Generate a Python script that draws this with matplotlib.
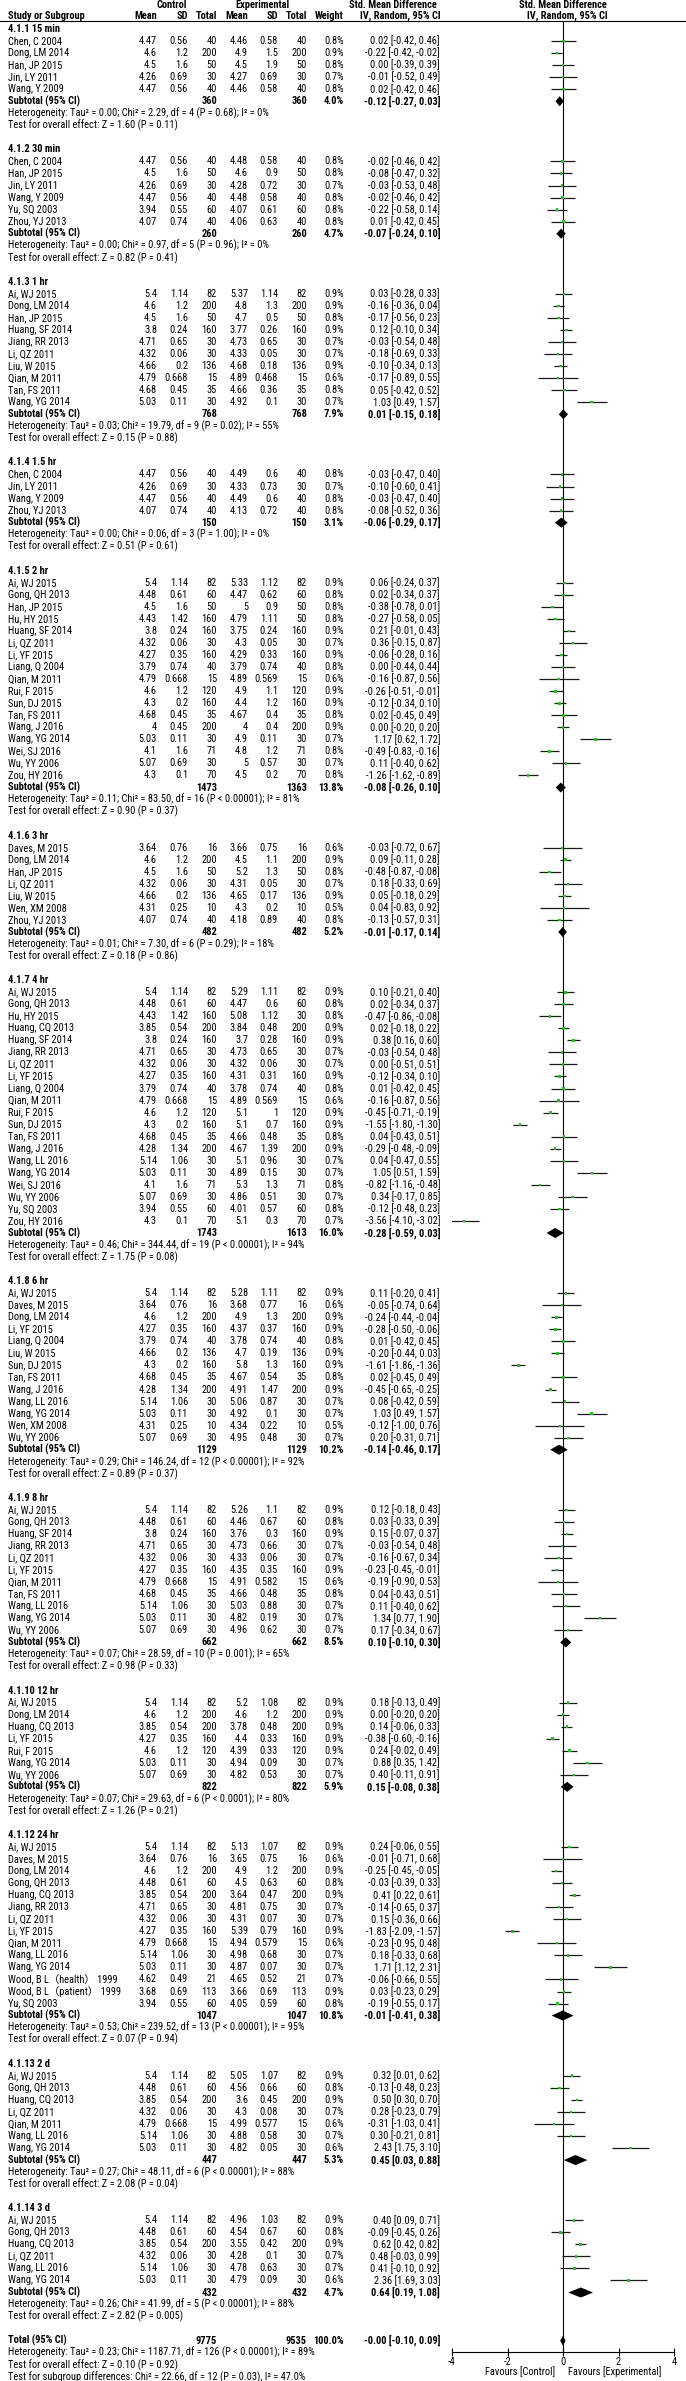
import matplotlib
matplotlib.use("Agg")
import matplotlib.pyplot as plt
from matplotlib import font_manager as fm

# ---- subgroup level data ----
sub_labels = ["4.1.1 15 min", "4.1.2 30 min", "4.1.3 1 hr", "4.1.4 1.5 hr", "4.1.5 2 hr",
              "4.1.6 3 hr", "4.1.7 4 hr", "4.1.8 6 hr", "4.1.9 8 hr", "4.1.10 12 hr",
              "4.1.12 24 hr", "4.1.13 2 d", "4.1.14 3 d"]
sub_size = [5, 6, 10, 4, 17, 7, 20, 13, 11, 7, 14, 7, 6]
sub_ctrl_n = [360, 260, 768, 150, 1473, 482, 1743, 1129, 662, 822, 1047, 447, 432]
sub_exp_n = [360, 260, 768, 150, 1363, 482, 1613, 1129, 662, 822, 1047, 447, 432]
sub_weight = [4.0, 4.7, 7.9, 3.1, 13.8, 5.2, 16.0, 10.2, 8.5, 5.9, 10.8, 5.3, 4.7]
sub_smd = [-0.12, -0.07, 0.01, -0.06, -0.08, -0.01, -0.28, -0.14, 0.10, 0.15, -0.01, 0.45, 0.64]
sub_lo = [-0.27, -0.24, -0.15, -0.29, -0.26, -0.17, -0.59, -0.46, -0.10, -0.08, -0.41, 0.03, 0.19]
sub_hi = [0.03, 0.10, 0.18, 0.17, 0.10, 0.14, 0.03, 0.17, 0.30, 0.38, 0.38, 0.88, 1.08]
sub_tau2 = ["0.00", "0.00", "0.03", "0.00", "0.11", "0.01", "0.46", "0.29", "0.07", "0.07", "0.53", "0.27", "0.26"]
sub_chi2 = ["2.29", "0.97", "19.79", "0.06", "83.50", "7.30", "344.44", "146.24", "28.59", "29.63",
            "239.52", "48.11", "41.99"]
sub_p_het = ["= 0.68", "= 0.96", "= 0.02", "= 1.00", "< 0.00001", "= 0.29", "< 0.00001", "< 0.00001",
             "= 0.001", "< 0.0001", "< 0.00001", "< 0.00001", "< 0.00001"]
sub_i2 = [0, 0, 55, 0, 81, 18, 94, 92, 65, 80, 95, 88, 88]
sub_z = ["1.60", "0.82", "0.15", "0.51", "0.90", "0.18", "1.75", "0.89", "0.98", "1.26", "0.07", "2.08", "2.82"]
sub_p_z = ["0.11", "0.41", "0.88", "0.61", "0.37", "0.86", "0.08", "0.37", "0.33", "0.21", "0.94", "0.04", "0.005"]

# ---- study level data (in subgroup order) ----
study = [
    "Chen, C 2004", "Dong, LM 2014", "Han, JP 2015", "Jin, LY 2011", "Wang, Y 2009",
    "Chen, C 2004", "Han, JP 2015", "Jin, LY 2011", "Wang, Y 2009", "Yu, SQ 2003", "Zhou, YJ 2013",
    "Ai, WJ 2015", "Dong, LM 2014", "Han, JP 2015", "Huang, SF 2014", "Jiang, RR 2013", "Li, QZ 2011",
    "Liu, W 2015", "Qian, M 2011", "Tan, FS 2011", "Wang, YG 2014",
    "Chen, C 2004", "Jin, LY 2011", "Wang, Y 2009", "Zhou, YJ 2013",
    "Ai, WJ 2015", "Gong, QH 2013", "Han, JP 2015", "Hu, HY 2015", "Huang, SF 2014", "Li, QZ 2011",
    "Li, YF 2015", "Liang, Q 2004", "Qian, M 2011", "Rui, F 2015", "Sun, DJ 2015", "Tan, FS 2011",
    "Wang, J 2016", "Wang, YG 2014", "Wei, SJ 2016", "Wu, YY 2006", "Zou, HY 2016",
    "Daves, M 2015", "Dong, LM 2014", "Han, JP 2015", "Li, QZ 2011", "Liu, W 2015", "Wen, XM 2008",
    "Zhou, YJ 2013",
    "Ai, WJ 2015", "Gong, QH 2013", "Hu, HY 2015", "Huang, CQ 2013", "Huang, SF 2014", "Jiang, RR 2013",
    "Li, QZ 2011", "Li, YF 2015", "Liang, Q 2004", "Qian, M 2011", "Rui, F 2015", "Sun, DJ 2015",
    "Tan, FS 2011", "Wang, J 2016", "Wang, LL 2016", "Wang, YG 2014", "Wei, SJ 2016", "Wu, YY 2006",
    "Yu, SQ 2003", "Zou, HY 2016",
    "Ai, WJ 2015", "Daves, M 2015", "Dong, LM 2014", "Li, YF 2015", "Liang, Q 2004", "Liu, W 2015",
    "Sun, DJ 2015", "Tan, FS 2011", "Wang, J 2016", "Wang, LL 2016", "Wang, YG 2014", "Wen, XM 2008",
    "Wu, YY 2006",
    "Ai, WJ 2015", "Gong, QH 2013", "Huang, SF 2014", "Jiang, RR 2013", "Li, QZ 2011", "Li, YF 2015",
    "Qian, M 2011", "Tan, FS 2011", "Wang, LL 2016", "Wang, YG 2014", "Wu, YY 2006",
    "Ai, WJ 2015", "Dong, LM 2014", "Huang, CQ 2013", "Li, YF 2015", "Rui, F 2015", "Wang, YG 2014",
    "Wu, YY 2006",
    "Ai, WJ 2015", "Daves, M 2015", "Dong, LM 2014", "Gong, QH 2013", "Huang, CQ 2013", "Jiang, RR 2013",
    "Li, QZ 2011", "Li, YF 2015", "Qian, M 2011", "Wang, LL 2016", "Wang, YG 2014",
    "Wood, B L（health） 1999", "Wood, B L（patient） 1999", "Yu, SQ 2003",
    "Ai, WJ 2015", "Gong, QH 2013", "Huang, CQ 2013", "Li, QZ 2011", "Qian, M 2011", "Wang, LL 2016",
    "Wang, YG 2014",
    "Ai, WJ 2015", "Gong, QH 2013", "Huang, CQ 2013", "Li, QZ 2011", "Wang, LL 2016", "Wang, YG 2014",
]

ctrl_mean = [
    4.47, 4.6, 4.5, 4.26, 4.47,
    4.47, 4.5, 4.26, 4.47, 3.94, 4.07,
    5.4, 4.6, 4.5, 3.8, 4.71, 4.32, 4.66, 4.79, 4.68, 5.03,
    4.47, 4.26, 4.47, 4.07,
    5.4, 4.48, 4.5, 4.43, 3.8, 4.32, 4.27, 3.79, 4.79, 4.6, 4.3, 4.68, 4, 5.03, 4.1, 5.07, 4.3,
    3.64, 4.6, 4.5, 4.32, 4.66, 4.31, 4.07,
    5.4, 4.48, 4.43, 3.85, 3.8, 4.71, 4.32, 4.27, 3.79, 4.79, 4.6, 4.3, 4.68, 4.28, 5.14, 5.03, 4.1,
    5.07, 3.94, 4.3,
    5.4, 3.64, 4.6, 4.27, 3.79, 4.66, 4.3, 4.68, 4.28, 5.14, 5.03, 4.31, 5.07,
    5.4, 4.48, 3.8, 4.71, 4.32, 4.27, 4.79, 4.68, 5.14, 5.03, 5.07,
    5.4, 4.6, 3.85, 4.27, 4.6, 5.03, 5.07,
    5.4, 3.64, 4.6, 4.48, 3.85, 4.71, 4.32, 4.27, 4.79, 5.14, 5.03, 4.62, 3.68, 3.94,
    5.4, 4.48, 3.85, 4.32, 4.79, 5.14, 5.03,
    5.4, 4.48, 3.85, 4.32, 5.14, 5.03,
]
ctrl_sd = [
    0.56, 1.2, 1.6, 0.69, 0.56,
    0.56, 1.6, 0.69, 0.56, 0.55, 0.74,
    1.14, 1.2, 1.6, 0.24, 0.65, 0.06, 0.2, 0.668, 0.45, 0.11,
    0.56, 0.69, 0.56, 0.74,
    1.14, 0.61, 1.6, 1.42, 0.24, 0.06, 0.35, 0.74, 0.668, 1.2, 0.2, 0.45, 0.45, 0.11, 1.6, 0.69, 0.1,
    0.76, 1.2, 1.6, 0.06, 0.2, 0.25, 0.74,
    1.14, 0.61, 1.42, 0.54, 0.24, 0.65, 0.06, 0.35, 0.74, 0.668, 1.2, 0.2, 0.45, 1.34, 1.06, 0.11, 1.6,
    0.69, 0.55, 0.1,
    1.14, 0.76, 1.2, 0.35, 0.74, 0.2, 0.2, 0.45, 1.34, 1.06, 0.11, 0.25, 0.69,
    1.14, 0.61, 0.24, 0.65, 0.06, 0.35, 0.668, 0.45, 1.06, 0.11, 0.69,
    1.14, 1.2, 0.54, 0.35, 1.2, 0.11, 0.69,
    1.14, 0.76, 1.2, 0.61, 0.54, 0.65, 0.06, 0.35, 0.668, 1.06, 0.11, 0.49, 0.69, 0.55,
    1.14, 0.61, 0.54, 0.06, 0.668, 1.06, 0.11,
    1.14, 0.61, 0.54, 0.06, 1.06, 0.11,
]
ctrl_n = [
    40, 200, 50, 30, 40,
    40, 50, 30, 40, 60, 40,
    82, 200, 50, 160, 30, 30, 136, 15, 35, 30,
    40, 30, 40, 40,
    82, 60, 50, 160, 160, 30, 160, 40, 15, 120, 160, 35, 200, 30, 71, 30, 70,
    16, 200, 50, 30, 136, 10, 40,
    82, 60, 160, 200, 160, 30, 30, 160, 40, 15, 120, 160, 35, 200, 30, 30, 71, 30, 60, 70,
    82, 16, 200, 160, 40, 136, 160, 35, 200, 30, 30, 10, 30,
    82, 60, 160, 30, 30, 160, 15, 35, 30, 30, 30,
    82, 200, 200, 160, 120, 30, 30,
    82, 16, 200, 60, 200, 30, 30, 160, 15, 30, 30, 21, 113, 60,
    82, 60, 200, 30, 15, 30, 30,
    82, 60, 200, 30, 30, 30,
]
exp_mean = [
    4.46, 4.9, 4.5, 4.27, 4.46,
    4.48, 4.6, 4.28, 4.48, 4.07, 4.06,
    5.37, 4.8, 4.7, 3.77, 4.73, 4.33, 4.68, 4.89, 4.66, 4.92,
    4.49, 4.33, 4.49, 4.13,
    5.33, 4.47, 5, 4.79, 3.75, 4.3, 4.29, 3.79, 4.89, 4.9, 4.4, 4.67, 4, 4.9, 4.8, 5, 4.5,
    3.66, 4.5, 5.2, 4.31, 4.65, 4.3, 4.18,
    5.29, 4.47, 5.08, 3.84, 3.7, 4.73, 4.32, 4.31, 3.78, 4.89, 5.1, 5.1, 4.66, 4.67, 5.1, 4.89, 5.3,
    4.86, 4.01, 5.1,
    5.28, 3.68, 4.9, 4.37, 3.78, 4.7, 5.8, 4.67, 4.91, 5.06, 4.92, 4.34, 4.95,
    5.26, 4.46, 3.76, 4.73, 4.33, 4.35, 4.91, 4.66, 5.03, 4.82, 4.96,
    5.2, 4.6, 3.78, 4.4, 4.39, 4.94, 4.82,
    5.13, 3.65, 4.9, 4.5, 3.64, 4.81, 4.31, 5.39, 4.94, 4.98, 4.87, 4.65, 3.66, 4.05,
    5.05, 4.56, 3.6, 4.3, 4.99, 4.88, 4.82,
    4.96, 4.54, 3.55, 4.28, 4.78, 4.79,
]
exp_sd = [
    0.58, 1.5, 1.9, 0.69, 0.58,
    0.58, 0.9, 0.72, 0.58, 0.61, 0.63,
    1.14, 1.3, 0.5, 0.26, 0.65, 0.05, 0.18, 0.468, 0.36, 0.1,
    0.6, 0.73, 0.6, 0.72,
    1.12, 0.62, 0.9, 1.11, 0.24, 0.05, 0.33, 0.74, 0.569, 1.1, 1.2, 0.4, 0.4, 0.11, 1.2, 0.57, 0.2,
    0.75, 1.1, 1.3, 0.05, 0.17, 0.2, 0.89,
    1.11, 0.6, 1.12, 0.48, 0.28, 0.65, 0.06, 0.31, 0.74, 0.569, 1, 0.7, 0.48, 1.39, 0.96, 0.15, 1.3,
    0.51, 0.57, 0.3,
    1.11, 0.77, 1.3, 0.37, 0.74, 0.19, 1.3, 0.54, 1.47, 0.87, 0.1, 0.22, 0.48,
    1.1, 0.67, 0.3, 0.66, 0.06, 0.35, 0.582, 0.48, 0.88, 0.19, 0.62,
    1.08, 1.2, 0.48, 0.33, 0.33, 0.09, 0.53,
    1.07, 0.75, 1.2, 0.63, 0.47, 0.75, 0.07, 0.79, 0.579, 0.68, 0.07, 0.52, 0.69, 0.59,
    1.07, 0.66, 0.45, 0.08, 0.577, 0.58, 0.05,
    1.03, 0.67, 0.42, 0.1, 0.63, 0.09,
]
exp_n = [
    40, 200, 50, 30, 40,
    40, 50, 30, 40, 60, 40,
    82, 200, 50, 160, 30, 30, 136, 15, 35, 30,
    40, 30, 40, 40,
    82, 60, 50, 50, 160, 30, 160, 40, 15, 120, 160, 35, 200, 30, 71, 30, 70,
    16, 200, 50, 30, 136, 10, 40,
    82, 60, 30, 200, 160, 30, 30, 160, 40, 15, 120, 160, 35, 200, 30, 30, 71, 30, 60, 70,
    82, 16, 200, 160, 40, 136, 160, 35, 200, 30, 30, 10, 30,
    82, 60, 160, 30, 30, 160, 15, 35, 30, 30, 30,
    82, 200, 200, 160, 120, 30, 30,
    82, 16, 200, 60, 200, 30, 30, 160, 15, 30, 30, 21, 113, 60,
    82, 60, 200, 30, 15, 30, 30,
    82, 60, 200, 30, 30, 30,
]
weight = [
    0.8, 0.9, 0.8, 0.7, 0.8,
    0.8, 0.8, 0.7, 0.8, 0.8, 0.8,
    0.9, 0.9, 0.8, 0.9, 0.7, 0.7, 0.9, 0.6, 0.8, 0.7,
    0.8, 0.7, 0.8, 0.8,
    0.9, 0.8, 0.8, 0.8, 0.9, 0.7, 0.9, 0.8, 0.6, 0.9, 0.9, 0.8, 0.9, 0.7, 0.8, 0.7, 0.8,
    0.6, 0.9, 0.8, 0.7, 0.9, 0.5, 0.8,
    0.9, 0.8, 0.8, 0.9, 0.9, 0.7, 0.7, 0.9, 0.8, 0.6, 0.9, 0.9, 0.8, 0.9, 0.7, 0.7, 0.8, 0.7, 0.8, 0.7,
    0.9, 0.6, 0.9, 0.9, 0.8, 0.9, 0.9, 0.8, 0.9, 0.7, 0.7, 0.5, 0.7,
    0.9, 0.8, 0.9, 0.7, 0.7, 0.9, 0.6, 0.8, 0.7, 0.7, 0.7,
    0.9, 0.9, 0.9, 0.9, 0.9, 0.7, 0.7,
    0.9, 0.6, 0.9, 0.8, 0.9, 0.7, 0.7, 0.9, 0.6, 0.7, 0.7, 0.7, 0.9, 0.8,
    0.9, 0.8, 0.9, 0.7, 0.6, 0.7, 0.6,
    0.9, 0.8, 0.9, 0.7, 0.7, 0.6,
]
smd = [
    0.02, -0.22, 0.00, -0.01, 0.02,
    -0.02, -0.08, -0.03, -0.02, -0.22, 0.01,
    0.03, -0.16, -0.17, 0.12, -0.03, -0.18, -0.10, -0.17, 0.05, 1.03,
    -0.03, -0.10, -0.03, -0.08,
    0.06, 0.02, -0.38, -0.27, 0.21, 0.36, -0.06, 0.00, -0.16, -0.26, -0.12, 0.02, 0.00, 1.17, -0.49,
    0.11, -1.26,
    -0.03, 0.09, -0.48, 0.18, 0.05, 0.04, -0.13,
    0.10, 0.02, -0.47, 0.02, 0.38, -0.03, 0.00, -0.12, 0.01, -0.16, -0.45, -1.55, 0.04, -0.29, 0.04,
    1.05, -0.82, 0.34, -0.12, -3.56,
    0.11, -0.05, -0.24, -0.28, 0.01, -0.20, -1.61, 0.02, -0.45, 0.08, 1.03, -0.12, 0.20,
    0.12, 0.03, 0.15, -0.03, -0.16, -0.23, -0.19, 0.04, 0.11, 1.34, 0.17,
    0.18, 0.00, 0.14, -0.38, 0.24, 0.88, 0.40,
    0.24, -0.01, -0.25, -0.03, 0.41, -0.14, 0.15, -1.83, -0.23, 0.18, 1.71, -0.06, 0.03, -0.19,
    0.32, -0.13, 0.50, 0.28, -0.31, 0.30, 2.43,
    0.40, -0.09, 0.62, 0.48, 0.41, 2.36,
]
ci_lo = [
    -0.42, -0.42, -0.39, -0.52, -0.42,
    -0.46, -0.47, -0.53, -0.46, -0.58, -0.42,
    -0.28, -0.36, -0.56, -0.10, -0.54, -0.69, -0.34, -0.89, -0.42, 0.49,
    -0.47, -0.60, -0.47, -0.52,
    -0.24, -0.34, -0.78, -0.58, -0.01, -0.15, -0.28, -0.44, -0.87, -0.51, -0.34, -0.45, -0.20, 0.62,
    -0.83, -0.40, -1.62,
    -0.72, -0.11, -0.87, -0.33, -0.18, -0.83, -0.57,
    -0.21, -0.34, -0.86, -0.18, 0.16, -0.54, -0.51, -0.34, -0.42, -0.87, -0.71, -1.80, -0.43, -0.48,
    -0.47, 0.51, -1.16, -0.17, -0.48, -4.10,
    -0.20, -0.74, -0.44, -0.50, -0.42, -0.44, -1.86, -0.45, -0.65, -0.42, 0.49, -1.00, -0.31,
    -0.18, -0.33, -0.07, -0.54, -0.67, -0.45, -0.90, -0.43, -0.40, 0.77, -0.34,
    -0.13, -0.20, -0.06, -0.60, -0.02, 0.35, -0.11,
    -0.06, -0.71, -0.45, -0.39, 0.22, -0.65, -0.36, -2.09, -0.95, -0.33, 1.12, -0.66, -0.23, -0.55,
    0.01, -0.48, 0.30, -0.23, -1.03, -0.21, 1.75,
    0.09, -0.45, 0.42, -0.03, -0.10, 1.69,
]
ci_hi = [
    0.46, -0.02, 0.39, 0.49, 0.46,
    0.42, 0.32, 0.48, 0.42, 0.14, 0.45,
    0.33, 0.04, 0.23, 0.34, 0.48, 0.33, 0.13, 0.55, 0.52, 1.57,
    0.40, 0.41, 0.40, 0.36,
    0.37, 0.37, 0.01, 0.05, 0.43, 0.87, 0.16, 0.44, 0.56, -0.01, 0.10, 0.49, 0.20, 1.72, -0.16, 0.62, -0.89,
    0.67, 0.28, -0.08, 0.69, 0.29, 0.92, 0.31,
    0.40, 0.37, -0.08, 0.22, 0.60, 0.48, 0.51, 0.10, 0.45, 0.56, -0.19, -1.30, 0.51, -0.09, 0.55, 1.59,
    -0.48, 0.85, 0.23, -3.02,
    0.41, 0.64, -0.04, -0.06, 0.45, 0.03, -1.36, 0.49, -0.25, 0.59, 1.57, 0.76, 0.71,
    0.43, 0.39, 0.37, 0.48, 0.34, -0.01, 0.53, 0.51, 0.62, 1.90, 0.67,
    0.49, 0.20, 0.33, -0.16, 0.49, 1.42, 0.91,
    0.55, 0.68, -0.05, 0.33, 0.61, 0.37, 0.66, -1.57, 0.48, 0.68, 2.31, 0.55, 0.29, 0.17,
    0.62, 0.23, 0.70, 0.79, 0.41, 0.81, 3.10,
    0.71, 0.26, 0.82, 0.99, 0.92, 3.03,
]

# ---- overall ----
total_ctrl_n = 9775
total_exp_n = 9535
total_smd = -0.00
total_lo = -0.10
total_hi = 0.09
total_het = "Heterogeneity: Tau² = 0.23; Chi² = 1187.71, df = 126 (P < 0.00001); I² = 89%"
total_test = "Test for overall effect: Z = 0.10 (P = 0.92)"
subgroup_test = "Test for subgroup differences: Chi² = 22.66, df = 12 (P = 0.03), I² = 47.0%"
x_ticks = [-4, -2, 0, 2, 4]


def has_font(name):
    try:
        fm.findfont(fm.FontProperties(family=name), fallback_to_default=False)
        return True
    except Exception:
        return False


base = "Liberation Sans"
for cand in ["Roboto Condensed", "Archivo Narrow", "PT Sans Narrow"]:
    if has_font(cand):
        base = cand
        break
plt.rcParams["font.family"] = [base, "Noto Sans CJK SC", "DejaVu Sans"]

W, H = 686, 2381
Y0, PITCH = 29.0, 12.04


def ypx(r):
    return Y0 + r * PITCH


fig = plt.figure(figsize=(W / 100, H / 100), dpi=100)

# pick the font size so a heterogeneity line is as wide as in the reference (~259 px)
rend = fig.canvas.get_renderer()
probe = fig.text(0, 0, "Heterogeneity: Tau² = 0.00; Chi² = 2.29, df = 4 (P = 0.68); I² = 0%", fontsize=10)
FS = 10 * 259 / probe.get_window_extent(rend).width
probe.remove()

ax = fig.add_axes([0, 0, 1, 1])
ax.set_xlim(0, W)
ax.set_ylim(H, 0)
ax.axis("off")

# forest panel
AX_L, AX_R, AX_T, AX_B = 452, 674, 21, 2352
fa = fig.add_axes([AX_L / W, 1 - AX_B / H, (AX_R - AX_L) / W, (AX_B - AX_T) / H])
fa.patch.set_alpha(0)
fa.set_xlim(-4, 4)
fa.set_ylim((AX_B - Y0) / PITCH, (AX_T - Y0) / PITCH)
for s in ["top", "left", "right"]:
    fa.spines[s].set_visible(False)
fa.spines["bottom"].set_linewidth(0.8)
fa.set_yticks([])
fa.set_xticks(x_ticks)
fa.set_xticklabels([str(t) for t in x_ticks])
fa.tick_params(axis="x", direction="inout", length=6, width=0.8, labelsize=FS, pad=0.5)
fa.axvline(0, color="black", lw=0.8, zorder=1)

cols = [157, 188, 217, 248, 278, 307, 344, 440]
XL = 8


def row_text(y, cells, bold=False):
    fw = "bold" if bold else "normal"
    for x, t in zip(cols, cells):
        if t != "":
            ax.text(x, y, t, ha="right", va="center", fontsize=FS, fontweight=fw)


# header
hb = dict(fontsize=FS, fontweight="bold", va="center")
ax.text(172, 5, "Control", ha="center", **hb)
ax.text(262, 5, "Experimental", ha="center", **hb)
ax.text(393, 5, "Std. Mean Difference", ha="center", **hb)
ax.text(563, 5, "Std. Mean Difference", ha="center", **hb)
ax.text(XL, 15.7, "Study or Subgroup", ha="left", **hb)
for x, t in zip(cols[:7], ["Mean", "SD", "Total", "Mean", "SD", "Total", "Weight"]):
    ax.text(x, 15.7, t, ha="right", **hb)
ax.text(400, 15.7, "IV, Random, 95% CI", ha="center", **hb)
ax.text(567, 15.7, "IV, Random, 95% CI", ha="center", **hb)
ax.plot([0, W], [21, 21], color="black", lw=0.8)

row = 0
start = 0
study_rows = []
for g, label in enumerate(sub_labels):
    ax.text(XL, ypx(row), label, ha="left", va="center", fontsize=FS, fontweight="bold")
    row += 1
    for i in range(start, start + sub_size[g]):
        y = ypx(row)
        ax.text(XL, y, study[i], ha="left", va="center", fontsize=FS)
        row_text(y, [f"{ctrl_mean[i]:g}", f"{ctrl_sd[i]:g}", str(ctrl_n[i]),
                     f"{exp_mean[i]:g}", f"{exp_sd[i]:g}", str(exp_n[i]),
                     f"{weight[i]:.1f}%", f"{smd[i]:.2f} [{ci_lo[i]:.2f}, {ci_hi[i]:.2f}]"])
        study_rows.append(row)
        row += 1
    start += sub_size[g]
    # subtotal
    y = ypx(row)
    ax.text(XL, y, "Subtotal (95% CI)", ha="left", va="center", fontsize=FS, fontweight="bold")
    row_text(y, ["", "", str(sub_ctrl_n[g]), "", "", str(sub_exp_n[g]), f"{sub_weight[g]:.1f}%",
                 f"{sub_smd[g]:.2f} [{sub_lo[g]:.2f}, {sub_hi[g]:.2f}]"], bold=True)
    fa.fill([sub_lo[g], sub_smd[g], sub_hi[g], sub_smd[g]], [row, row - 0.42, row, row + 0.42],
            color="black", lw=0, zorder=3)
    row += 1
    het = (f"Heterogeneity: Tau² = {sub_tau2[g]}; Chi² = {sub_chi2[g]}, df = {sub_size[g] - 1} "
           f"(P {sub_p_het[g]}); I² = {sub_i2[g]}%")
    ax.text(XL, ypx(row), het, ha="left", va="center", fontsize=FS)
    row += 1
    ax.text(XL, ypx(row), f"Test for overall effect: Z = {sub_z[g]} (P = {sub_p_z[g]})",
            ha="left", va="center", fontsize=FS)
    row += 2

# studies in the forest panel
fa.hlines(study_rows, ci_lo, ci_hi, color="#1a1a1a", lw=0.9, zorder=2)
fa.scatter(smd, study_rows, marker="s", s=[w * 4 for w in weight], color="#22c022", lw=0, zorder=4)

# total
y = ypx(row)
ax.text(XL, y, "Total (95% CI)", ha="left", va="center", fontsize=FS, fontweight="bold")
row_text(y, ["", "", str(total_ctrl_n), "", "", str(total_exp_n), "100.0%",
             f"{total_smd:.2f} [{total_lo:.2f}, {total_hi:.2f}]"], bold=True)
fa.fill([total_lo, total_smd, total_hi, total_smd], [row, row - 0.42, row, row + 0.42],
        color="black", lw=0, zorder=3)
ax.text(XL, ypx(row + 1), total_het, ha="left", va="center", fontsize=FS)
ax.text(XL, ypx(row + 2), total_test, ha="left", va="center", fontsize=FS)
ax.text(XL, ypx(row + 3), subgroup_test, ha="left", va="center", fontsize=FS)

ax.text(555, 2372, "Favours [Control]", ha="right", va="center", fontsize=FS)
ax.text(568, 2372, "Favours [Experimental]", ha="left", va="center", fontsize=FS)

fig.savefig("out.png", dpi=100)
